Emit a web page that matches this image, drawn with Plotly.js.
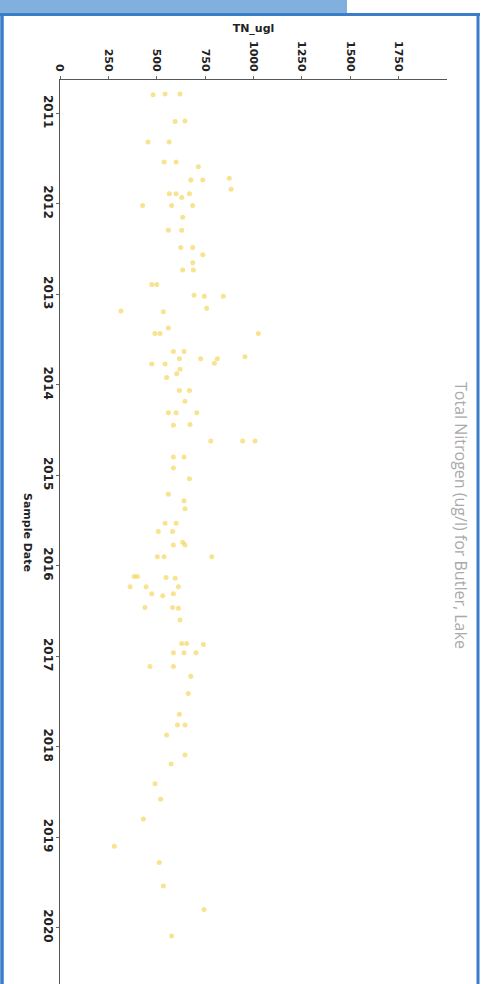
<!DOCTYPE html>
<html>
<head>
<meta charset="utf-8">
<script src="https://cdn.plot.ly/plotly-3.0.1.min.js"></script>
<style>
html,body{margin:0;padding:0;background:#fff;}
#chart{width:484px;height:984px;}
</style>
</head>
<body>
<div id="chart"></div>
<script>
// Sample dates and TN values (ug/l)
const sampleDates = [
 '2010-10-18','2010-10-15','2010-10-15','2011-02-03','2011-01-31','2011-04-26','2011-04-26','2011-07-16','2011-07-16','2011-08-04',
 '2011-09-27','2011-09-27','2011-09-20','2011-11-03','2011-11-21','2011-11-21','2011-12-06','2011-11-21','2012-01-08','2012-01-08',
 '2012-01-08','2012-02-24','2012-04-16','2012-04-16','2012-06-25','2012-06-25','2012-07-24','2012-08-26','2012-09-24','2012-09-24',
 '2012-11-21','2012-11-21','2013-01-04','2013-01-08','2013-01-08','2013-02-25','2013-03-08','2013-03-11','2013-05-16','2013-06-07',
 '2013-06-07','2013-06-07','2013-08-19','2013-08-19','2013-09-17','2013-09-17','2013-09-17','2013-10-05','2013-09-09','2013-10-08',
 '2013-10-08','2013-10-30','2013-11-17','2013-12-02','2014-01-23','2014-01-23','2014-03-08','2014-04-23','2014-04-23','2014-04-23',
 '2014-06-13','2014-06-10','2014-08-15','2014-08-15','2014-08-15','2014-10-19','2014-10-19','2014-12-02','2015-01-15','2015-03-18',
 '2015-04-13','2015-05-16','2015-07-13','2015-07-13','2015-08-15','2015-08-15','2015-10-09','2015-09-28','2015-10-09','2015-11-25',
 '2015-11-25','2015-11-25','2016-02-13','2016-02-13','2016-02-17','2016-02-20','2016-03-25','2016-03-25','2016-03-25','2016-04-23',
 '2016-05-01','2016-04-23','2016-06-17','2016-06-17','2016-06-20','2016-08-07','2016-11-10','2016-11-10','2016-11-14','2016-12-17',
 '2016-12-17','2016-12-17','2017-02-10','2017-02-10','2017-03-22','2017-05-30','2017-08-22','2017-10-05','2017-10-05','2017-11-14',
 '2018-02-03','2018-03-11','2018-05-30','2018-07-31','2018-10-19','2019-02-06','2019-04-13','2019-07-16','2019-10-19','2020-02-03'
];
const tnUgl = [
 481,543,620,595,646,455,564,538,600,715,
 676,738,875,884,565,600,629,669,427,577,
 686,634,560,629,624,686,738,686,634,689,
 474,500,693,746,844,758,315,534,560,517,
 491,1025,586,641,617,727,813,798,956,474,
 543,620,603,551,617,669,646,560,600,707,
 586,672,779,944,1008,586,641,586,669,560,
 641,646,543,600,508,582,586,634,646,503,
 538,784,383,400,548,595,362,445,612,474,
 531,586,439,582,612,620,629,655,741,586,
 641,703,465,586,676,663,617,607,646,551,
 646,574,491,520,431,281,513,534,744,577
];
const tnTicks = [0,250,500,750,1000,1250,1500,1750];
const yearTicks = ['2011-01-01','2012-01-01','2013-01-01','2014-01-01','2015-01-01','2016-01-01','2017-01-01','2018-01-01','2019-01-01','2020-01-01'];
const yearLabels = ['2011','2012','2013','2014','2015','2016','2017','2018','2019','2020'];
const chartTitle = 'Total Nitrogen (ug/l) for Butler, Lake';
const valueTitle = 'TN_ugl';
const dateTitle = 'Sample Date';

// paper coordinate helpers (plot area: x 60..447 px, y 80..984 px)
const L = 60, R = 37, T = 80, B = 0, W = 484, H = 984;
const pw = W - L - R, ph = H - T - B;
const px = v => (v - L) / pw;
const py = v => 1 - (v - T) / ph;

const trace = {
  type: 'scatter', mode: 'markers',
  x: tnUgl, y: sampleDates,
  marker: {size: 5, color: 'rgba(242,208,70,0.6)', line: {width: 0}},
  hoverinfo: 'x+y'
};

const blue = '#3b7dc8';
const layout = {
  width: W, height: H,
  margin: {l: L, r: R, t: T, b: B, pad: 0},
  paper_bgcolor: '#ffffff', plot_bgcolor: '#ffffff',
  showlegend: false,
  font: {family: 'DejaVu Sans, Verdana, sans-serif', color: '#222'},
  xaxis: {
    side: 'top', range: [0, 2000], tickvals: tnTicks, ticktext: tnTicks.map(String),
    tickangle: 90, ticks: 'outside', ticklen: 3, tickcolor: '#666',
    showline: true, linecolor: '#555', linewidth: 1.5, showgrid: false, zeroline: false,
    tickfont: {size: 11, color: '#222', weight: 'bold'},
    title: {text: valueTitle, font: {size: 11, color: '#222', weight: 'bold'}, standoff: 6}
  },
  yaxis: {
    type: 'date', range: ['2020-08-15', '2010-08-19'],
    tickvals: yearTicks, ticktext: yearLabels, tickangle: 90,
    ticks: 'outside', ticklen: 3, tickcolor: '#666', ticklabelstandoff: -3,
    showline: true, linecolor: '#555', linewidth: 1.5, showgrid: false, zeroline: false,
    tickfont: {size: 12, color: '#222', weight: 'bold'}
  },
  annotations: [
    {text: dateTitle, xref: 'paper', yref: 'paper', x: px(28), y: py(532), showarrow: false,
     xanchor: 'center', yanchor: 'middle',
     textangle: 90, font: {size: 11, color: '#222', weight: 'bold'}},
    {text: chartTitle, xref: 'paper', yref: 'paper', x: px(461), y: py(515), showarrow: false,
     xanchor: 'center', yanchor: 'middle',
     textangle: 90, font: {family: 'Open Sans, sans-serif', size: 16, color: '#a9a9a9'}}
  ],
  shapes: [
    {type: 'rect', xref: 'paper', yref: 'paper', x0: px(0), x1: px(347), y0: py(14), y1: py(0),
     fillcolor: '#7fb0de', line: {width: 0}, layer: 'above'},
    {type: 'line', xref: 'paper', yref: 'paper', x0: px(0), x1: px(480), y0: py(14.5), y1: py(14.5),
     line: {color: blue, width: 3}, layer: 'above'},
    {type: 'line', xref: 'paper', yref: 'paper', x0: px(2), x1: px(2), y0: py(14), y1: py(984),
     line: {color: blue, width: 3.5}, layer: 'above'},
    {type: 'line', xref: 'paper', yref: 'paper', x0: px(478), x1: px(478), y0: py(14), y1: py(984),
     line: {color: blue, width: 3}, layer: 'above'}
  ]
};

Plotly.newPlot('chart', [trace], layout, {displayModeBar: false, staticPlot: true});
</script>
</body>
</html>
